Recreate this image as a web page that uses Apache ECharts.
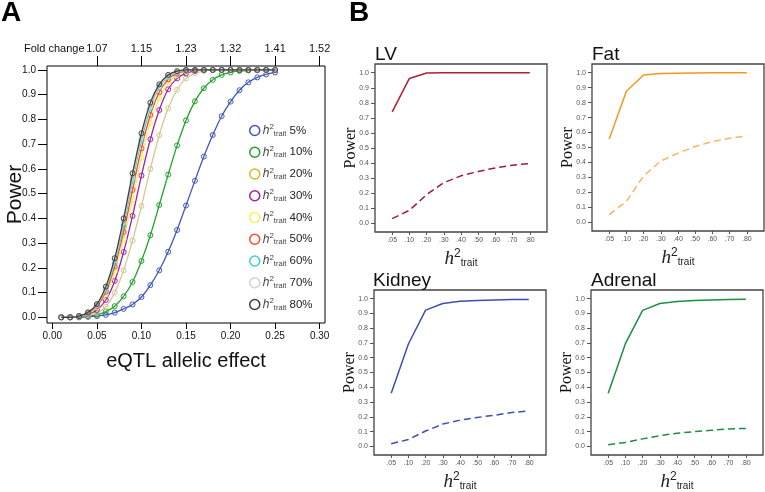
<!DOCTYPE html>
<html><head><meta charset="utf-8">
<script src="https://cdn.jsdelivr.net/npm/echarts@6/dist/echarts.min.js"></script>
<style>html,body{margin:0;padding:0;background:#fff}#c{width:765px;height:492px}</style>
</head><body><div id="c"></div>
<script>
// ---------- Panel A data ----------
const effect = [0.01,0.02,0.03,0.04,0.05,0.06,0.07,0.08,0.09,0.10,0.11,0.12,0.13,0.14,0.15,0.16,0.17,0.18,0.19,0.20,0.21,0.22,0.23,0.24,0.25];
const effectTicks = [0.00,0.05,0.10,0.15,0.20,0.25,0.30];
const effectTickLabels = ['0.00','0.05','0.10','0.15','0.20','0.25','0.30'];
const foldTicks = [0.05,0.10,0.15,0.20,0.25,0.30];
const foldLabels = ['1.07','1.15','1.23','1.32','1.41','1.52'];
const powerTicks = [0,0.1,0.2,0.3,0.4,0.5,0.6,0.7,0.8,0.9,1.0];
const traitLevels = ['5%','10%','20%','30%','40%','50%','60%','70%','80%'];
const pow05 = [0,0,0,0.002,0.005,0.01,0.019,0.034,0.052,0.082,0.13,0.19,0.265,0.353,0.452,0.552,0.65,0.737,0.813,0.872,0.918,0.95,0.97,0.982,0.99];
const pow10 = [0,0,0.001,0.004,0.01,0.023,0.045,0.085,0.143,0.228,0.332,0.454,0.577,0.695,0.796,0.873,0.926,0.96,0.98,0.99,0.996,0.998,0.999,1,1];
const pow20 = [0,0,0.002,0.008,0.018,0.042,0.1,0.19,0.31,0.45,0.6,0.737,0.845,0.92,0.966,0.986,0.996,1,1,1,1,1,1,1,1];
const pow30 = [0,0,0.003,0.012,0.03,0.07,0.147,0.264,0.41,0.573,0.72,0.838,0.922,0.966,0.986,0.996,1,1,1,1,1,1,1,1,1];
const pow40 = [0,0,0.004,0.015,0.04,0.092,0.185,0.315,0.475,0.645,0.785,0.885,0.948,0.98,0.994,1,1,1,1,1,1,1,1,1,1];
const pow50 = [0,0,0.004,0.017,0.045,0.103,0.205,0.345,0.515,0.683,0.818,0.91,0.962,0.986,0.996,1,1,1,1,1,1,1,1,1,1];
const pow60 = [0,0,0.005,0.018,0.048,0.112,0.22,0.37,0.55,0.715,0.845,0.93,0.972,0.99,0.998,1,1,1,1,1,1,1,1,1,1];
const pow70 = [0,0,0.005,0.019,0.05,0.118,0.23,0.385,0.565,0.73,0.855,0.935,0.975,0.992,1,1,1,1,1,1,1,1,1,1,1];
const pow80 = [0,0,0.005,0.02,0.053,0.124,0.239,0.4,0.582,0.744,0.868,0.942,0.98,0.995,1,1,1,1,1,1,1,1,1,1,1];

// ---------- Panel B data ----------
const h2Cats = ['.05','.10','.20','.30','.40','.50','.60','.70','.80'];
const lvSolid   = [0.74,0.962,0.998,1,1,1,1,1,1];
const lvDashed  = [0.031,0.086,0.19,0.27,0.315,0.344,0.368,0.386,0.397];
const fatSolid  = [0.556,0.876,0.984,0.995,0.997,0.998,0.999,1,1];
const fatDashed = [0.051,0.14,0.31,0.41,0.462,0.507,0.54,0.562,0.578];
const kidSolid  = [0.36,0.693,0.922,0.967,0.982,0.987,0.99,0.993,0.994];
const kidDashed = [0.018,0.047,0.104,0.151,0.178,0.196,0.211,0.229,0.24];
const adrSolid  = [0.36,0.695,0.92,0.967,0.98,0.987,0.99,0.993,0.995];
const adrDashed = [0.011,0.027,0.051,0.073,0.089,0.1,0.109,0.118,0.122];

const SANS = "'Liberation Sans', Arial, sans-serif";
const SERIF = "'Liberation Serif', 'Times New Roman', serif";

function nearestLabel(v, ticks, labels){
  let best = 0, bd = Infinity;
  ticks.forEach((t,i)=>{ const d = Math.abs(t-v); if(d<bd){bd=d;best=i;} });
  return labels[best];
}

const colorsA = ['#4457b9','#22a22a','#d3c894','#a123a3','#f3ee66','#ff4a22','#3fcfcf','#cfcfcf','#3f3f3f'];
const powA = [pow05,pow10,pow20,pow30,pow40,pow50,pow60,pow70,pow80];
const legendBorder = {'20%':'#c9c322','40%':'#f7f25a','70%':'#d2d2d2'};

const grids = [
  {left:47, top:66, width:278, height:257, show:true, borderColor:'#000', borderWidth:1},
  {left:375, top:64, width:172, height:168, show:true, borderColor:'#444', borderWidth:1.3},
  {left:592, top:64, width:172, height:167, show:true, borderColor:'#444', borderWidth:1.3},
  {left:374, top:290, width:172, height:167, show:true, borderColor:'#444', borderWidth:1.3},
  {left:591, top:290, width:172, height:166, show:true, borderColor:'#444', borderWidth:1.3}
];

const xAxes = [
  {gridIndex:0, type:'value', position:'bottom', min:-0.006, max:0.306,
   axisLine:{show:false, onZero:false}, splitLine:{show:false},
   axisTick:{show:true, customValues:effectTicks, length:6, lineStyle:{color:'#000', width:1}},
   axisLabel:{customValues:effectTicks, formatter:v=>nearestLabel(v,effectTicks,effectTickLabels), margin:8, fontSize:10, fontFamily:SANS, color:'#111'},
   name:'eQTL allelic effect', nameLocation:'middle', nameGap:28, nameMoveOverlap:false,
   nameTextStyle:{fontSize:20, fontFamily:SANS, color:'#111'}},
  {gridIndex:0, type:'value', position:'top', min:-0.006, max:0.306,
   axisLine:{show:false, onZero:false}, splitLine:{show:false},
   axisTick:{show:true, customValues:foldTicks, length:10, lineStyle:{color:'#000', width:1}},
   axisLabel:{customValues:foldTicks, formatter:v=>nearestLabel(v,foldTicks,foldLabels), margin:12, fontSize:11, fontFamily:SANS, color:'#111'}}
];
const yAxes = [
  {gridIndex:0, type:'value', min:-0.023, max:1.016,
   axisLine:{show:false, onZero:false}, splitLine:{show:false},
   axisTick:{show:true, customValues:powerTicks, length:9, lineStyle:{color:'#000', width:1}},
   axisLabel:{customValues:powerTicks, formatter:v=>v.toFixed(1), margin:11, fontSize:10, fontFamily:SANS, color:'#111'},
   name:'Power', nameLocation:'middle', nameGap:21, nameMoveOverlap:false,
   nameTextStyle:{fontSize:21, fontFamily:SANS, color:'#111'}}
];

const idxTicks = h2Cats.map((_,i)=>i);
for(let g=1; g<=4; g++){
  xAxes.push({gridIndex:g, type:'value', min:-1, max:9,
    axisLine:{show:false, onZero:false}, splitLine:{show:false},
    axisTick:{show:true, customValues:idxTicks, length:3, lineStyle:{color:'#555', width:1}},
    axisLabel:{customValues:idxTicks, formatter:v=>h2Cats[Math.round(v)], margin:5, fontSize:7, fontFamily:SANS, color:'#555'},
    name:'{h|h}{s|2}{t|trait}', nameLocation:'middle', nameGap:16, nameMoveOverlap:false,
    nameTextStyle:{rich:{
      h:{fontFamily:SERIF, fontStyle:'italic', fontSize:19, color:'#222', verticalAlign:'middle'},
      s:{fontFamily:SANS, fontSize:12, color:'#222', padding:[0,0,9,0], verticalAlign:'middle'},
      t:{fontFamily:SANS, fontSize:10, color:'#222', padding:[9,0,0,0], verticalAlign:'middle'}
    }}});
  yAxes.push({gridIndex:g, type:'value', min:-0.058, max:1.058,
    axisLine:{show:false, onZero:false}, splitLine:{show:false},
    axisTick:{show:true, customValues:powerTicks, length:4, lineStyle:{color:'#555', width:1}},
    axisLabel:{customValues:powerTicks, formatter:v=>v.toFixed(1), margin:6, fontSize:7, fontFamily:SANS, color:'#555'},
    name:'Power', nameLocation:'middle', nameGap:16, nameMoveOverlap:false,
    nameTextStyle:{fontSize:16, fontFamily:SERIF, color:'#111'}});
}

const series = [];
traitLevels.forEach((lvl,i)=>{
  series.push({
    name:lvl, type:'line', xAxisIndex:0, yAxisIndex:0,
    data: effect.map((x,k)=>[x, powA[i][k]]),
    smooth:0.3, symbol:'circle', symbolSize:5, showSymbol:true,
    lineStyle:{color:colorsA[i], width:1.3},
    itemStyle:{color:'rgba(0,0,0,0)', borderColor:colorsA[i], borderWidth:1},
    z: 2+i, animation:false, emphasis:{disabled:true}
  });
});

const panelsB = [
  {g:1, solid:lvSolid, dashed:lvDashed, c1:'#b31d33', c2:'#a5192e'},
  {g:2, solid:fatSolid, dashed:fatDashed, c1:'#f6961f', c2:'#f8b662'},
  {g:3, solid:kidSolid, dashed:kidDashed, c1:'#3d4fb3', c2:'#3d4fb3'},
  {g:4, solid:adrSolid, dashed:adrDashed, c1:'#1b8f43', c2:'#1b8f43'}
];
panelsB.forEach(p=>{
  series.push({type:'line', xAxisIndex:p.g+1, yAxisIndex:p.g, showSymbol:false, animation:false,
    data:h2Cats.map((_,k)=>[k,p.solid[k]]), lineStyle:{color:p.c1, width:1.5}, emphasis:{disabled:true}});
  series.push({type:'line', xAxisIndex:p.g+1, yAxisIndex:p.g, showSymbol:false, animation:false,
    data:h2Cats.map((_,k)=>[k,p.dashed[k]]), lineStyle:{color:p.c2, width:1.5, type:[7,4]}, emphasis:{disabled:true}});
});

const option = {
  backgroundColor:'#fff',
  animation:false,
  grid:grids, xAxis:xAxes, yAxis:yAxes, series:series,
  legend:{
    orient:'vertical', left:244, top:118, itemWidth:10, itemHeight:10, itemGap:7.25, selectedMode:false,
    icon:'circle',
    itemStyle:{color:'rgba(0,0,0,0)', borderWidth:1.5},
    data: traitLevels.map(n=> legendBorder[n] ? {name:n, itemStyle:{borderColor:legendBorder[n]}} : {name:n}),
    formatter: n => '{h|h}{s|2}{t|trait}{n| ' + n + '}',
    textStyle:{padding:[0,0,0,-2], rich:{
      h:{fontFamily:SANS, fontStyle:'italic', fontSize:12, color:'#444', verticalAlign:'middle'},
      s:{fontFamily:SANS, fontSize:8, color:'#444', padding:[0,0,7,0], verticalAlign:'middle'},
      t:{fontFamily:SANS, fontSize:7.5, color:'#444', padding:[6,0,0,0], verticalAlign:'middle'},
      n:{fontFamily:SANS, fontSize:11.5, color:'#222', verticalAlign:'middle'}
    }}
  },
  graphic:[
    {type:'text', x:1, y:13, style:{text:'A', font:"bold 28px 'Liberation Sans', Arial", fill:'#000', textVerticalAlign:'middle'}},
    {type:'text', x:349, y:13, style:{text:'B', font:"bold 28px 'Liberation Sans', Arial", fill:'#000', textVerticalAlign:'middle'}},
    {type:'text', x:24, y:49, style:{text:'Fold change', font:"11px 'Liberation Sans', Arial", fill:'#111', textVerticalAlign:'middle'}},
    {type:'text', x:375, y:55, style:{text:'LV', font:"19px 'Liberation Sans', Arial", fill:'#111', textVerticalAlign:'middle'}},
    {type:'text', x:592, y:55, style:{text:'Fat', font:"19px 'Liberation Sans', Arial", fill:'#111', textVerticalAlign:'middle'}},
    {type:'text', x:373, y:281, style:{text:'Kidney', font:"19px 'Liberation Sans', Arial", fill:'#111', textVerticalAlign:'middle'}},
    {type:'text', x:591, y:281, style:{text:'Adrenal', font:"19px 'Liberation Sans', Arial", fill:'#111', textVerticalAlign:'middle'}}
  ]
};
const chart = echarts.init(document.getElementById('c'), null, {renderer:'canvas'});
chart.setOption(option);
</script></body></html>
